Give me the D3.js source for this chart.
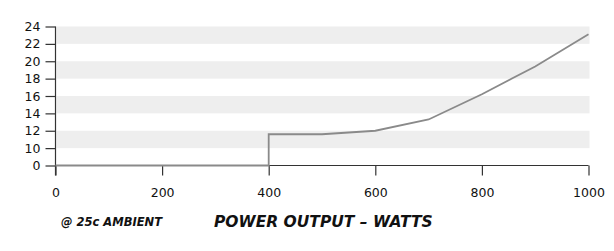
<!DOCTYPE html>
<html>
<head>
<meta charset="utf-8">
<script src="https://cdn.jsdelivr.net/npm/d3@7"></script>
<style>
  body { margin: 0; background: #fff; }
  svg text { font-family: "DejaVu Sans", sans-serif; fill: #111; }
  .tick-label { font-size: 12.5px; }
  .title { font-size: 15.5px; font-weight: bold; font-style: italic; }
  .note { font-size: 11.5px; font-weight: bold; font-style: italic; }
</style>
</head>
<body>
<div id="chart"></div>
<script>
// Power output (watts) vs value
const watts = [0, 400, 400, 500, 600, 700, 800, 900, 1000];
const values = [0, 0, 11.6, 11.6, 12.0, 13.3, 16.2, 19.4, 23.1];

// y axis is broken: 0 sits one step below 10
const yTicks = [0, 10, 12, 14, 16, 18, 20, 22, 24];
const xTicks = [0, 200, 400, 600, 800, 1000];
// shaded bands (from, to)
const bands = [[22, 24], [18, 20], [14, 16], [10, 12]];

const width = 614, height = 251;
const plotLeft = 55.5, plotRight = 588.5, plotTop = 26.5, plotBottom = 165.5;

const svg = d3.select('#chart')
    .append('svg')
    .attr('width', width)
    .attr('height', height);

const x = d3.scaleLinear().domain([0, 1000]).range([plotLeft, plotRight]);
const step = (plotBottom - plotTop) / 8;
const y = d3.scaleLinear().domain([0, 10, 24]).range([plotBottom, plotBottom - step, plotTop]);

// background bands
svg.append('g')
    .selectAll('rect')
    .data(bands)
    .enter()
    .append('rect')
    .attr('x', plotLeft + 1)
    .attr('width', plotRight - plotLeft)
    .attr('y', d => y(d[1]))
    .attr('height', d => y(d[0]) - y(d[1]))
    .attr('fill', '#eeeeee');

// x axis
const xAxis = svg.append('g')
    .attr('transform', `translate(0,${plotBottom})`)
    .call(d3.axisBottom(x).tickValues(xTicks).tickFormat(d3.format('d'))
        .tickSize(10).tickPadding(13).tickSizeOuter(0));

// y axis
const yAxis = svg.append('g')
    .attr('transform', `translate(${plotLeft},0)`)
    .call(d3.axisLeft(y).tickValues(yTicks).tickSize(10).tickPadding(5).tickSizeOuter(0));

[xAxis, yAxis].forEach(g => {
    g.attr('font-family', null).attr('font-size', null);
    g.select('.domain').attr('stroke', '#333').attr('stroke-width', 1.2);
    g.selectAll('.tick line').attr('stroke', '#333').attr('stroke-width', 1.2);
    g.selectAll('.tick text').attr('class', 'tick-label').attr('fill', '#111');
});

// y axis runs down past the x axis
yAxis.select('.domain').attr('d', `M0,${plotTop}V${plotBottom + 10}`);
xAxis.select('.domain').attr('d', `M${plotLeft},0H${plotRight}`);

// data line
const line = d3.line()
    .x((d, i) => x(watts[i]))
    .y(d => y(d));

svg.append('path')
    .datum(values)
    .attr('d', line)
    .attr('fill', 'none')
    .attr('stroke', '#8a8a8a')
    .attr('stroke-width', 1.8);

// footer texts
svg.append('text')
    .attr('class', 'note')
    .attr('x', 61)
    .attr('y', 226)
    .text('@ 25c AMBIENT');

svg.append('text')
    .attr('class', 'title')
    .attr('x', 214)
    .attr('y', 227)
    .text('POWER OUTPUT – WATTS');
</script>
</body>
</html>
